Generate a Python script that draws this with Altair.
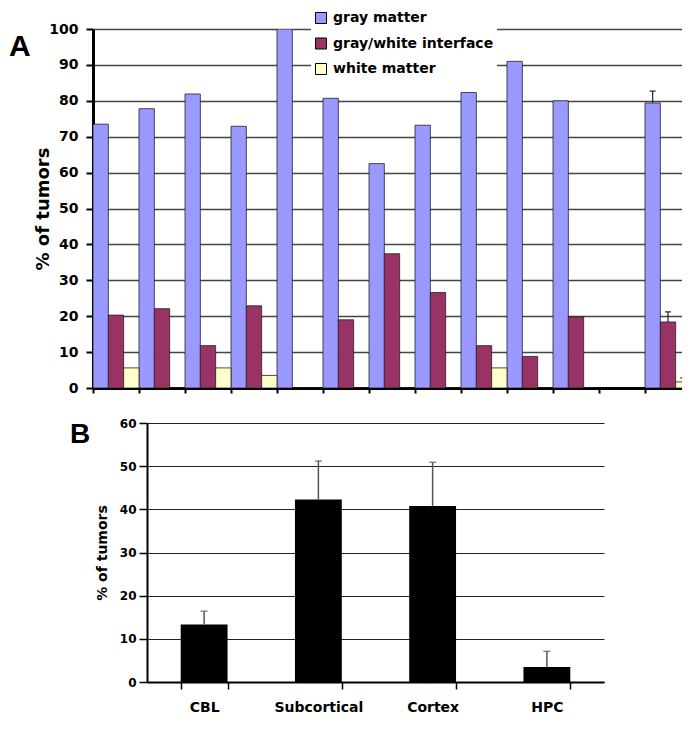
import altair as alt
import pandas as pd

# ---------------- Panel A data ----------------
groups = list(range(13))
series = ["gray matter", "gray/white interface", "white matter"]
colors = ["#9999FF", "#993366", "#FFFFCC"]
gray_vals = [73.5, 77.8, 81.9, 72.9, 100.0, 80.7, 62.5, 73.2, 82.3, 91.0, 80.0, None, 79.4]
interface_vals = [20.3, 22.1, 11.8, 22.9, 0.0, 19.0, 37.4, 26.6, 11.8, 8.8, 19.8, None, 18.4]
white_vals = [5.6, 0.0, 5.6, 3.5, 0.0, 0.0, 0.0, 0.0, 5.6, 0.0, 0.0, None, 1.7]
err_group = 12
err_vals = [3.3, 2.8, 1.1]
a_ticks = list(range(0, 101, 10))

# ---------------- Panel B data ----------------
regions = ["CBL", "Subcortical", "Cortex", "HPC"]
region_vals = [13.3, 42.3, 40.8, 3.5]
region_err = [3.1, 8.9, 10.1, 3.6]
b_ticks = list(range(0, 61, 10))

FONT = "DejaVu Sans"

rows = []
for s_idx, vals in enumerate([gray_vals, interface_vals, white_vals]):
    for g, v in zip(groups, vals):
        if v is not None:
            rows.append({"group": g, "s": s_idx, "series": series[s_idx], "value": v})
df_a = pd.DataFrame(rows)

err_rows = []
for s_idx, e in enumerate(err_vals):
    v = [gray_vals, interface_vals, white_vals][s_idx][err_group]
    err_rows.append({"group": err_group, "s": s_idx, "value": v, "upper": v + e})
df_err = pd.DataFrame(err_rows)

df_b = pd.DataFrame({"region": regions, "value": region_vals,
                     "upper": [v + e for v, e in zip(region_vals, region_err)]})

W_A = 589
GROUP_PX = 46.0
x_max = W_A / GROUP_PX

x_scale_a = alt.Scale(domain=[0, x_max], nice=False, zero=False)
y_scale_a = alt.Scale(domain=[0, 100], nice=False, zero=True)

x_axis_a = alt.Axis(values=groups, labels=False, title=None, grid=False,
                    tickSize=5, tickWidth=2, tickColor="black",
                    domainWidth=3, domainColor="black")
y_axis_a = alt.Axis(values=a_ticks, labelOverlap=False,
                    title="% of tumors",
                    titleFont=FONT, titleFontSize=18, titleFontWeight="bold",
                    titleColor="black", titlePadding=-4,
                    labelFont=FONT, labelFontSize=14, labelFontWeight="bold",
                    labelColor="black", labelPadding=8,
                    tickSize=7, tickWidth=2, tickColor="black",
                    domainWidth=3, domainColor="black",
                    grid=True, gridColor="#444444", gridWidth=1.5)

bars_a = alt.Chart(df_a).transform_calculate(
    x0="datum.group + datum.s / 3",
    x1="datum.group + (datum.s + 1) / 3",
    base="0",
).mark_bar(stroke="#222222", strokeWidth=0.8, clip=True).encode(
    x=alt.X("x0:Q", scale=x_scale_a, axis=x_axis_a),
    x2="x1:Q",
    y=alt.Y("value:Q", scale=y_scale_a, axis=y_axis_a),
    y2="base:Q",
    color=alt.Color("series:N", scale=alt.Scale(domain=series, range=colors),
                    legend=alt.Legend(orient="none", legendX=303, legendY=-21,
                                      title=None, fillColor="white", padding=3,
                                      symbolType="square", symbolSize=121,
                                      symbolStrokeColor="black", symbolStrokeWidth=1,
                                      symbolOpacity=1, labelLimit=400,
                                      labelFont=FONT, labelFontSize=14,
                                      labelFontWeight="bold", labelColor="black",
                                      rowPadding=9.5, labelOffset=5)),
)

err_base = alt.Chart(df_err).transform_calculate(
    xc="datum.group + (datum.s + 0.5) / 3",
    xl="datum.group + (datum.s + 0.5) / 3 - 0.065",
    xr="datum.group + (datum.s + 0.5) / 3 + 0.065",
)
err_a = err_base.mark_rule(color="#222222", strokeWidth=1.2, clip=True).encode(
    x=alt.X("xc:Q", scale=x_scale_a, axis=x_axis_a),
    y=alt.Y("value:Q", scale=y_scale_a, axis=y_axis_a), y2="upper:Q")
cap_a = err_base.mark_rule(color="#222222", strokeWidth=1.2, clip=True).encode(
    x=alt.X("xl:Q", scale=x_scale_a, axis=x_axis_a), x2="xr:Q",
    y=alt.Y("upper:Q", scale=y_scale_a, axis=y_axis_a))

panel_a = alt.layer(bars_a, err_a, cap_a).properties(
    width=W_A, height=359,
    title=alt.TitleParams("A", anchor="start", frame="group", orient="top",
                          dx=-84, dy=40, fontSize=30, font="Liberation Sans",
                          fontWeight="bold", color="black", baseline="top", offset=0),
)

# ---------------- Panel B ----------------
x_b = alt.X("region:N", sort=regions,
            scale=alt.Scale(paddingInner=0.59, paddingOuter=0.295),
            axis=alt.Axis(title=None, labelAngle=0, tickBand="extent",
                          labelFont=FONT, labelFontSize=14, labelFontWeight="bold",
                          labelColor="black", labelPadding=11,
                          tickSize=7, tickWidth=1.5, tickColor="black",
                          domainWidth=2, domainColor="black"))
y_scale_b = alt.Scale(domain=[0, 60], nice=False)
y_axis_b = alt.Axis(values=b_ticks, labelOverlap=False, title="% of tumors",
                    titleFont=FONT, titleFontSize=14, titleFontWeight="bold",
                    titleColor="black", titlePadding=10,
                    labelFont=FONT, labelFontSize=12, labelFontWeight="bold",
                    labelColor="black", labelPadding=3,
                    tickSize=8, tickWidth=1.5, tickColor="black",
                    domainWidth=2, domainColor="black",
                    grid=True, gridColor="#222222", gridWidth=1.2)

bars_b = alt.Chart(df_b).mark_bar(color="black").encode(
    x=x_b,
    y=alt.Y("value:Q", scale=y_scale_b, axis=y_axis_b),
)
err_b = alt.Chart(df_b).mark_rule(color="#555555", strokeWidth=1.5).encode(
    x=x_b, y=alt.Y("value:Q", scale=y_scale_b, axis=y_axis_b), y2="upper:Q")
cap_b = alt.Chart(df_b).mark_tick(color="#555555", thickness=1.5, size=7).encode(
    x=x_b, y=alt.Y("upper:Q", scale=y_scale_b, axis=y_axis_b))

panel_b = alt.layer(bars_b, err_b, cap_b).properties(
    width=457, height=259,
    title=alt.TitleParams("B", anchor="start", frame="group", orient="top",
                          dx=-77, dy=32, fontSize=28, font="Liberation Sans",
                          fontWeight="bold", color="black", baseline="top", offset=0),
)

spacer_a = alt.Chart(pd.DataFrame({"v": [0]})).mark_point(opacity=0, size=0).properties(
    width=1, height=10)
spacer_b = alt.Chart(pd.DataFrame({"v": [0]})).mark_point(opacity=0, size=0).properties(
    width=62, height=10)

row_a = alt.hconcat(spacer_a, panel_a, spacing=0)
row_b = alt.hconcat(spacer_b, panel_b, spacing=0)

chart = alt.vconcat(row_a, row_b, spacing=22).properties(
    padding={"left": 0, "top": 0, "right": 0, "bottom": 0},
    background="white",
).configure_view(stroke=None)

chart.save("out.html", embed_options={"renderer": "svg", "actions": False})
